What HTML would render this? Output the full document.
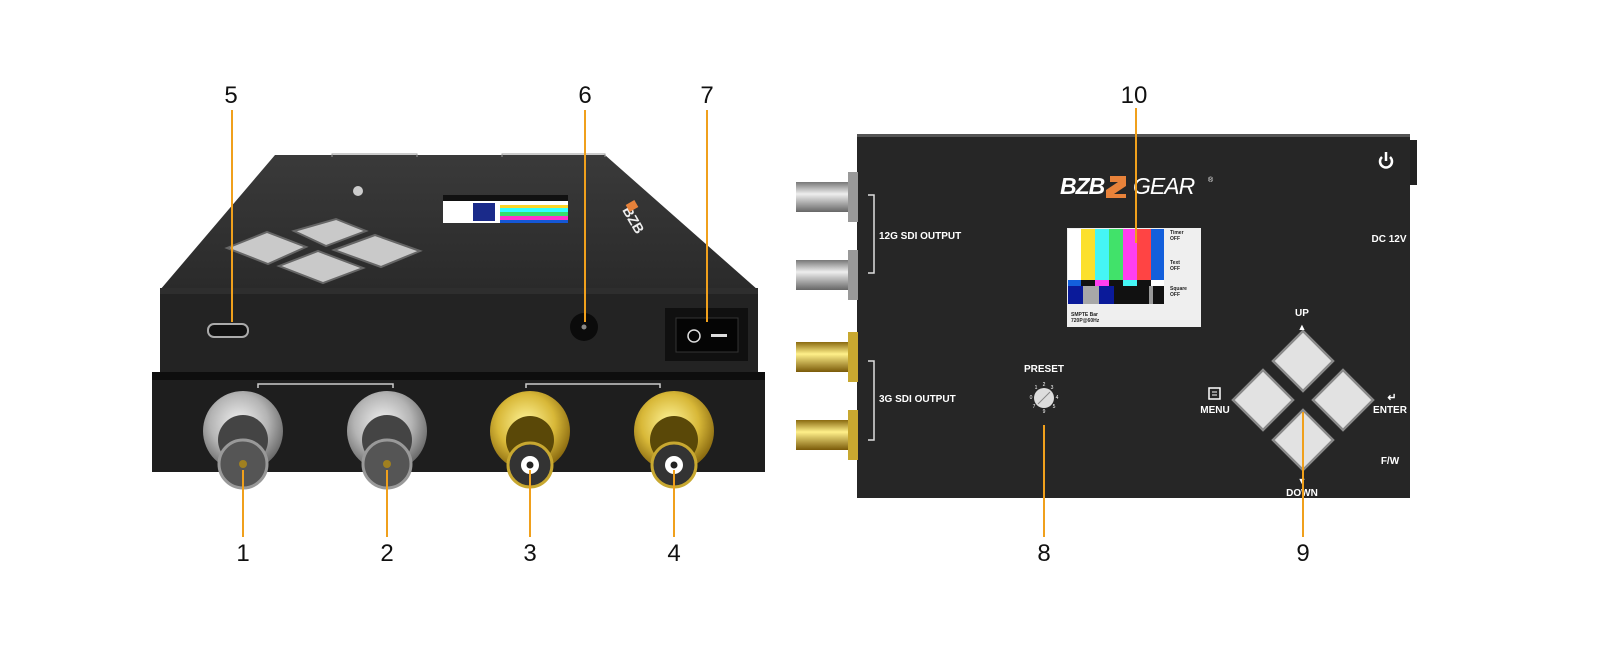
<!DOCTYPE html>
<html><head><meta charset="utf-8"><style>
html,body{margin:0;padding:0;background:#fff;width:1600px;height:660px;overflow:hidden}
svg{display:block}
text{font-family:"Liberation Sans",sans-serif}
</style></head><body>
<svg width="1600" height="660" viewBox="0 0 1600 660" xmlns="http://www.w3.org/2000/svg">
<defs>
<radialGradient id="sil" cx="45%" cy="40%" r="60%"><stop offset="0" stop-color="#f2f2f2"/><stop offset="0.6" stop-color="#b4b4b4"/><stop offset="1" stop-color="#6a6a6a"/></radialGradient>
<radialGradient id="gld" cx="45%" cy="40%" r="60%"><stop offset="0" stop-color="#fff59a"/><stop offset="0.6" stop-color="#d8b838"/><stop offset="1" stop-color="#8a6a10"/></radialGradient>
<linearGradient id="top" x1="0" y1="0" x2="0" y2="1"><stop offset="0" stop-color="#3a3a3a"/><stop offset="1" stop-color="#2a2a2a"/></linearGradient>
<linearGradient id="bncs" x1="0" y1="0" x2="0" y2="1"><stop offset="0" stop-color="#777"/><stop offset="0.4" stop-color="#eee"/><stop offset="1" stop-color="#666"/></linearGradient>
<linearGradient id="bncg" x1="0" y1="0" x2="0" y2="1"><stop offset="0" stop-color="#8a6a10"/><stop offset="0.4" stop-color="#fff08a"/><stop offset="1" stop-color="#7a5a08"/></linearGradient>
</defs>

<!-- LEFT DEVICE -->
<polygon points="275,155 605,155 758,290 160,290" fill="url(#top)"/>
<rect x="160" y="288" width="598" height="84" fill="#232323"/>
<rect x="160" y="288" width="598" height="6" fill="#2e2e2e"/>
<rect x="152" y="372" width="613" height="10" fill="#0e0e0e"/>
<rect x="152" y="380" width="613" height="92" fill="#1e1e1e"/>
<rect x="443" y="195" width="125" height="28" fill="#fff"/>
<rect x="443" y="195" width="125" height="6" fill="#111"/>
<rect x="490" y="202" width="78" height="3" fill="#fff"/>
<rect x="500" y="205" width="68" height="3" fill="#fcd628"/>
<rect x="500" y="208" width="68" height="4" fill="#3ff"/>
<rect x="500" y="212" width="68" height="4" fill="#35e06b"/>
<rect x="500" y="216" width="68" height="4" fill="#f3c"/>
<rect x="500" y="220" width="68" height="3" fill="#1457d6"/>
<rect x="473" y="203" width="22" height="18" fill="#1a2a8a"/>
<text x="622" y="210" font-size="14" font-weight="bold" fill="#eee" transform="rotate(60 622 210)">BZB</text>
<rect x="628" y="201" width="8" height="10" fill="#e8823a" transform="rotate(60 632 206)"/>
<g fill="#c9c9c9" stroke="#666" stroke-width="2">
<polygon points="227,248 267,232 306,247 268,264"/>
<polygon points="294,231 336,219 366,231 326,246"/>
<polygon points="334,250 375,235 420,251 381,267"/>
<polygon points="279,266 318,251 363,268 323,283"/>
</g>
<polyline points="332,157 332,154 417,154 417,157" fill="none" stroke="#999" stroke-width="1"/>
<polyline points="502,157 502,154 605,154 605,157" fill="none" stroke="#999" stroke-width="1"/>
<circle cx="358" cy="191" r="5" fill="#ccc"/>
<rect x="208" y="324" width="40" height="13" rx="6" fill="#111" stroke="#aaa" stroke-width="2"/>
<circle cx="584" cy="327" r="14" fill="#0b0b0b"/><circle cx="584" cy="327" r="2.5" fill="#888"/>
<rect x="665" y="308" width="83" height="53" fill="#101010"/>
<rect x="676" y="318" width="62" height="34" fill="#050505" stroke="#333"/>
<circle cx="694" cy="336" r="6" fill="none" stroke="#ddd" stroke-width="1.5"/>
<rect x="711" y="334" width="16" height="3" fill="#ddd"/>
<polyline points="258,388 258,384 393,384 393,388" fill="none" stroke="#ccc" stroke-width="1.5"/>
<polyline points="526,388 526,384 660,384 660,388" fill="none" stroke="#ccc" stroke-width="1.5"/>
<g>
<circle cx="243" cy="431" r="40" fill="url(#sil)"/><circle cx="243" cy="440" r="25" fill="#444"/><circle cx="243" cy="464" r="24" fill="#555" stroke="#999" stroke-width="3"/><circle cx="243" cy="464" r="4" fill="#a08020"/>
<circle cx="387" cy="431" r="40" fill="url(#sil)"/><circle cx="387" cy="440" r="25" fill="#444"/><circle cx="387" cy="464" r="24" fill="#555" stroke="#999" stroke-width="3"/><circle cx="387" cy="464" r="4" fill="#a08020"/>
<circle cx="530" cy="431" r="40" fill="url(#gld)"/><circle cx="530" cy="440" r="24" fill="#5a4808"/><circle cx="530" cy="465" r="22" fill="#333" stroke="#c8a830" stroke-width="3"/><circle cx="530" cy="465" r="9" fill="#fff"/><circle cx="530" cy="465" r="3.5" fill="#222"/>
<circle cx="674" cy="431" r="40" fill="url(#gld)"/><circle cx="674" cy="440" r="24" fill="#5a4808"/><circle cx="674" cy="465" r="22" fill="#333" stroke="#c8a830" stroke-width="3"/><circle cx="674" cy="465" r="9" fill="#fff"/><circle cx="674" cy="465" r="3.5" fill="#222"/>
</g>

<!-- RIGHT DEVICE -->
<rect x="1405" y="140" width="12" height="45" fill="#222"/>
<rect x="857" y="134" width="553" height="364" fill="#262626"/>
<rect x="857" y="134" width="553" height="3" fill="#555"/>
<g>
<rect x="796" y="182" width="62" height="30" fill="url(#bncs)"/><rect x="848" y="172" width="10" height="50" fill="#999"/>
<rect x="796" y="260" width="62" height="30" fill="url(#bncs)"/><rect x="848" y="250" width="10" height="50" fill="#999"/>
<rect x="796" y="342" width="62" height="30" fill="url(#bncg)"/><rect x="848" y="332" width="10" height="50" fill="#c8a830"/>
<rect x="796" y="420" width="62" height="30" fill="url(#bncg)"/><rect x="848" y="410" width="10" height="50" fill="#c8a830"/>
</g>
<polyline points="868,195 874,195 874,273 868,273" fill="none" stroke="#ddd" stroke-width="1.5"/>
<polyline points="868,361 874,361 874,440 868,440" fill="none" stroke="#ddd" stroke-width="1.5"/>
<text x="879" y="239" font-size="10" font-weight="bold" fill="#fff">12G SDI OUTPUT</text>
<text x="879" y="402" font-size="10" font-weight="bold" fill="#fff">3G SDI OUTPUT</text>
<text x="1060" y="194" font-size="23" font-weight="bold" font-style="italic" fill="#fff" letter-spacing="-1">BZB</text>
<path d="M1110 176 h16 v10 l-12 8 h12 v4 h-20 v-8 l12 -8 h-8z" fill="#e8823a"/>
<text x="1133" y="194" font-size="23" font-style="italic" fill="#fff" letter-spacing="-1">GEAR</text>
<text x="1208" y="182" font-size="7" fill="#fff">®</text>
<rect x="1067" y="228" width="134" height="99" fill="#efefef"/>
<rect x="1068" y="229" width="13" height="51" fill="#fff"/>
<rect x="1081" y="229" width="14" height="51" fill="#fce02c"/>
<rect x="1095" y="229" width="14" height="51" fill="#45f5f5"/>
<rect x="1109" y="229" width="14" height="51" fill="#41e26a"/>
<rect x="1123" y="229" width="14" height="51" fill="#ff3ff0"/>
<rect x="1137" y="229" width="14" height="51" fill="#ff4444"/>
<rect x="1151" y="229" width="13" height="51" fill="#135fdc"/>
<rect x="1068" y="280" width="96" height="6" fill="#111"/>
<rect x="1068" y="280" width="13" height="6" fill="#135fdc"/><rect x="1095" y="280" width="14" height="6" fill="#ff3ff0"/><rect x="1123" y="280" width="14" height="6" fill="#45f5f5"/><rect x="1151" y="280" width="13" height="6" fill="#fff"/>
<rect x="1068" y="286" width="96" height="18" fill="#111"/>
<rect x="1068" y="286" width="15" height="18" fill="#0a1a9a"/><rect x="1083" y="286" width="16" height="18" fill="#a8a8a8"/><rect x="1099" y="286" width="15" height="18" fill="#0a1a9a"/><rect x="1149" y="286" width="4" height="18" fill="#999"/>
<g font-size="5" fill="#222" font-weight="bold">
<text x="1170" y="234">Timer</text><text x="1170" y="240">OFF</text>
<text x="1170" y="264">Text</text><text x="1170" y="270">OFF</text>
<text x="1170" y="290">Square</text><text x="1170" y="296">OFF</text>
<text x="1071" y="316">SMPTE Bar</text><text x="1071" y="322">720P@60Hz</text>
</g>
<text x="1044" y="372" font-size="10" font-weight="bold" fill="#fff" text-anchor="middle">PRESET</text>
<circle cx="1044" cy="398" r="10" fill="#ddd"/><line x1="1038" y1="404" x2="1050" y2="392" stroke="#888"/>
<g font-size="5" fill="#fff" text-anchor="middle"><text x="1044" y="386">2</text><text x="1052" y="389">3</text><text x="1057" y="399">4</text><text x="1054" y="408">5</text><text x="1044" y="413">9</text><text x="1034" y="408">7</text><text x="1031" y="399">0</text><text x="1036" y="389">1</text></g>
<g fill="#e2e2e2" stroke="#8a8a8a" stroke-width="2.5">
<polygon points="1303,331 1333,361 1303,391 1273,361"/>
<polygon points="1263,370 1293,400 1263,430 1233,400"/>
<polygon points="1343,370 1373,400 1343,430 1313,400"/>
<polygon points="1303,410 1333,440 1303,470 1273,440"/>
</g>
<g font-size="10" font-weight="bold" fill="#fff" text-anchor="middle">
<text x="1302" y="316">UP</text><text x="1302" y="330" font-size="9">▲</text>
<text x="1302" y="496">DOWN</text><text x="1302" y="484" font-size="9">▼</text>
<text x="1215" y="413">MENU</text>
<text x="1390" y="413">ENTER</text>
<text x="1390" y="464">F/W</text>
<text x="1389" y="242">DC 12V</text>
<text x="1392" y="401" font-size="11">↵</text>
</g>
<rect x="1209" y="388" width="11" height="11" fill="none" stroke="#fff" stroke-width="1.5"/><line x1="1212" y1="392" x2="1217" y2="392" stroke="#fff"/><line x1="1212" y1="395" x2="1217" y2="395" stroke="#fff"/>
<path d="M1382 157 a6 6 0 1 0 8 0" fill="none" stroke="#fff" stroke-width="2.5"/><line x1="1386" y1="152" x2="1386" y2="161" stroke="#fff" stroke-width="2.5"/>

<g stroke="#f0a01c" stroke-width="2">
<line x1="232" y1="110" x2="232" y2="322"/>
<line x1="585" y1="110" x2="585" y2="322"/>
<line x1="707" y1="110" x2="707" y2="322"/>
<line x1="243" y1="470" x2="243" y2="537"/>
<line x1="387" y1="470" x2="387" y2="537"/>
<line x1="530" y1="470" x2="530" y2="537"/>
<line x1="674" y1="470" x2="674" y2="537"/>
<line x1="1136" y1="108" x2="1136" y2="243"/>
<line x1="1044" y1="425" x2="1044" y2="537"/>
<line x1="1303" y1="412" x2="1303" y2="537"/>
</g>
<g font-size="24" fill="#111" text-anchor="middle">
<text x="231" y="103">5</text><text x="585" y="103">6</text><text x="707" y="103">7</text><text x="1134" y="103">10</text>
<text x="243" y="561">1</text><text x="387" y="561">2</text><text x="530" y="561">3</text><text x="674" y="561">4</text>
<text x="1044" y="561">8</text><text x="1303" y="561">9</text>
</g>
</svg>
</body></html>
